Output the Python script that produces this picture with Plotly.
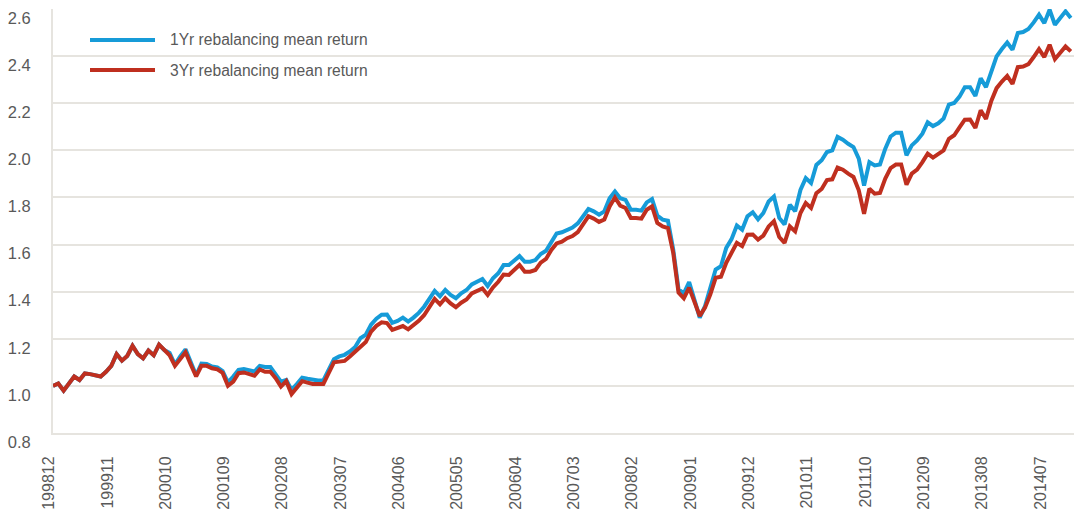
import plotly.graph_objects as go
import pandas as pd

months = [p.strftime("%Y%m") for p in pd.period_range("1998-12", "2014-12", freq="M")]

ret_3yr = [
    1.00, 1.01, 0.98, 1.01, 1.04, 1.025, 1.053, 1.05, 1.045, 1.04,
    1.06, 1.085, 1.135, 1.107, 1.127, 1.17, 1.135, 1.117, 1.15, 1.13,
    1.175, 1.15, 1.13, 1.085, 1.117, 1.143, 1.09, 1.04, 1.085, 1.085,
    1.075, 1.07, 1.055, 1.00, 1.018, 1.054, 1.057, 1.05, 1.043, 1.07,
    1.06, 1.06, 1.033, 0.997, 1.02, 0.965, 0.994, 1.02, 1.014, 1.008,
    1.008, 1.008, 1.054, 1.10, 1.103, 1.106, 1.125, 1.146, 1.17, 1.186,
    1.23, 1.255, 1.27, 1.267, 1.238, 1.245, 1.254, 1.24, 1.256, 1.276,
    1.30, 1.336, 1.369, 1.346, 1.372, 1.35, 1.334, 1.353, 1.367, 1.393,
    1.403, 1.414, 1.386, 1.418, 1.442, 1.473, 1.471, 1.492, 1.513, 1.485,
    1.485, 1.492, 1.523, 1.539, 1.577, 1.605, 1.612, 1.627, 1.636, 1.653,
    1.685, 1.72, 1.71, 1.696, 1.706, 1.762, 1.80, 1.765, 1.755, 1.713,
    1.713, 1.71, 1.748, 1.762, 1.692, 1.677, 1.67, 1.565, 1.396, 1.372,
    1.417, 1.36, 1.297, 1.332, 1.389, 1.459, 1.463, 1.523, 1.568, 1.607,
    1.593, 1.642, 1.643, 1.621, 1.638, 1.677, 1.699, 1.632, 1.607, 1.677,
    1.656, 1.734, 1.776, 1.755, 1.818, 1.836, 1.874, 1.877, 1.927, 1.918,
    1.901, 1.887, 1.83, 1.73, 1.837, 1.816, 1.819, 1.88, 1.925, 1.94,
    1.94, 1.854, 1.901, 1.918, 1.95, 1.986, 1.969, 1.983, 2.0, 2.049,
    2.064, 2.097, 2.13, 2.131, 2.095, 2.17, 2.133, 2.21, 2.264, 2.292,
    2.316, 2.282, 2.353, 2.356, 2.366, 2.396, 2.43, 2.396, 2.448, 2.387,
    2.416, 2.441, 2.42,
]

ret_1yr = [
    1.00, 1.01, 0.98, 1.01, 1.04, 1.025, 1.053, 1.05, 1.045, 1.04,
    1.06, 1.085, 1.135, 1.107, 1.127, 1.17, 1.135, 1.117, 1.15, 1.13,
    1.175, 1.152, 1.14, 1.09, 1.125, 1.155, 1.10, 1.045, 1.095, 1.093,
    1.082, 1.078, 1.063, 1.015, 1.04, 1.068, 1.072, 1.068, 1.061, 1.085,
    1.08, 1.08, 1.047, 1.018, 1.025, 0.983, 1.008, 1.035, 1.03, 1.025,
    1.023, 1.023, 1.068, 1.113, 1.125, 1.132, 1.146, 1.165, 1.203, 1.217,
    1.26, 1.285, 1.302, 1.303, 1.268, 1.276, 1.29, 1.273, 1.29, 1.31,
    1.336, 1.372, 1.403, 1.38, 1.407, 1.386, 1.372, 1.393, 1.407, 1.431,
    1.442, 1.454, 1.424, 1.457, 1.478, 1.513, 1.513, 1.531, 1.551, 1.527,
    1.527, 1.534, 1.56, 1.574, 1.612, 1.647, 1.652, 1.664, 1.672, 1.69,
    1.72, 1.751, 1.741, 1.727, 1.741, 1.797, 1.825, 1.797, 1.79, 1.748,
    1.748, 1.744, 1.779, 1.793, 1.723, 1.706, 1.701, 1.579, 1.41, 1.393,
    1.441, 1.368, 1.29, 1.339, 1.41, 1.494, 1.508, 1.586, 1.623, 1.681,
    1.663, 1.72, 1.737, 1.707, 1.734, 1.783, 1.804, 1.713, 1.685, 1.769,
    1.741, 1.832, 1.882, 1.861, 1.938, 1.958, 1.993, 2.0, 2.057, 2.045,
    2.028, 2.014, 1.965, 1.85, 1.95, 1.936, 1.94, 2.007, 2.059, 2.075,
    2.075, 1.979, 2.021, 2.042, 2.071, 2.119, 2.103, 2.115, 2.135, 2.194,
    2.201, 2.228, 2.268, 2.268, 2.231, 2.306, 2.268, 2.335, 2.399, 2.43,
    2.458, 2.427, 2.498, 2.502, 2.515, 2.543, 2.576, 2.54, 2.597, 2.533,
    2.562, 2.59, 2.562,
]

series_names = ["1Yr rebalancing mean return", "3Yr rebalancing mean return"]
tick_every = 11

assert len(months) == len(ret_1yr) == len(ret_3yr)

BLUE = "#169BD8"
RED = "#BF2F1F"
GRID = "#E6E4DF"
TXT = "#595959"
FONT = "Liberation Sans"

x = list(range(len(months)))
tickvals = x[::tick_every]
ticktext = [months[i] for i in tickvals]

fig = go.Figure()
fig.add_trace(go.Scatter(x=x, y=ret_1yr, mode="lines", name=series_names[0],
                         line=dict(color=BLUE, width=4)))
fig.add_trace(go.Scatter(x=x, y=ret_3yr, mode="lines", name=series_names[1],
                         line=dict(color=RED, width=4)))

W, H = 1074, 515
L, R, T, B = 53, 0, 9, 82
pw, ph = W - L - R, H - T - B

def px2paper(px, py):
    return (px - L) / pw, (H - B - py) / ph

# manual legend
for name, col, py in [(series_names[0], BLUE, 40), (series_names[1], RED, 70)]:
    x0, y0 = px2paper(90, py)
    x1, _ = px2paper(155, py)
    fig.add_shape(type="line", xref="paper", yref="paper", x0=x0, x1=x1, y0=y0, y1=y0,
                  line=dict(color=col, width=4))
    xt, _ = px2paper(168, py)
    fig.add_annotation(xref="paper", yref="paper", x=xt, y=y0, text=name, showarrow=False,
                       xanchor="left", yanchor="middle",
                       font=dict(family=FONT, size=15.6, color=TXT))

fig.update_layout(
    width=W, height=H,
    margin=dict(l=L, r=R, t=T, b=B, autoexpand=False),
    plot_bgcolor="white", paper_bgcolor="white",
    showlegend=False,
    font=dict(family=FONT, size=16, color=TXT),
)
fig.update_xaxes(
    automargin=False,
    range=[0, (len(months) - 1) + 0.6],
    tickvals=tickvals, ticktext=ticktext, tickangle=-90,
    showgrid=False, zeroline=False,
    showline=True, linecolor=GRID, linewidth=2,
    ticks="", ticklabelstandoff=15, ticklabelshift=-4,
    tickfont=dict(family=FONT, size=16, color=TXT),
)
fig.update_yaxes(
    automargin=False,
    range=[0.8, 2.6], dtick=0.2, tickformat=".1f",
    showgrid=True, gridcolor=GRID, gridwidth=1.5,
    zeroline=False, showline=True, linecolor=GRID, linewidth=2,
    ticks="", ticklabelstandoff=17, ticklabelshift=9,
    tickfont=dict(family=FONT, size=16.5, color=TXT),
)

fig.write_html("out.html", config={"displayModeBar": False},
               post_script="document.body.style.margin='0px';document.body.style.overflow='hidden';")
